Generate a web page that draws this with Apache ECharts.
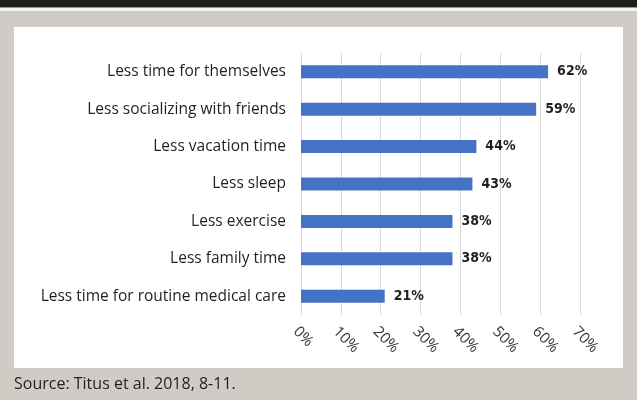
<!DOCTYPE html>
<html>
<head>
<meta charset="utf-8">
<script src="https://cdn.jsdelivr.net/npm/echarts@6/dist/echarts.min.js"></script>
<style>
  html, body { margin: 0; padding: 0; background: #cfcbc5; }
  #chart { width: 637px; height: 400px; }
</style>
</head>
<body>
<div id="chart"></div>
<script>
// 数据
const categories = [
  'Less time for themselves',
  'Less socializing with friends',
  'Less vacation time',
  'Less sleep',
  'Less exercise',
  'Less family time',
  'Less time for routine medical care'
]
const values = [62, 59, 44, 43, 38, 38, 21]
const sourceText = 'Source: Titus et al. 2018, 8-11.'

const chart = echarts.init(document.getElementById('chart'))
chart.setOption({
  backgroundColor: '#cfcbc5',
  animation: false,
  graphic: [
    // 顶部深色条
    { type: 'rect', left: 0, top: 0, shape: { width: 637, height: 7 }, style: { fill: '#1e1d1b' } },
    { type: 'rect', left: 0, top: 7, shape: { width: 637, height: 1 }, style: { fill: '#9a9894' } },
    { type: 'rect', left: 0, top: 8, shape: { width: 637, height: 3 }, style: { fill: '#f4f3f1' } },
    // 白色面板
    { type: 'rect', left: 14, top: 27, z: -1, shape: { width: 609, height: 341 }, style: { fill: '#ffffff' } },
    {
      type: 'text',
      x: 14,
      y: 384,
      style: {
        text: sourceText,
        fill: '#231f20',
        font: '16px "Open Sans"',
        verticalAlign: 'middle'
      }
    }
  ],
  grid: {
    left: 301,
    right: 57,
    top: 53,
    bottom: 85
  },
  xAxis: {
    type: 'value',
    min: 0,
    max: 70,
    interval: 10,
    axisLine: { show: false },
    axisTick: { show: false },
    splitLine: {
      show: true,
      lineStyle: { color: '#d9d9d9', width: 1 }
    },
    axisLabel: {
      rotate: -45,
      margin: 9,
      verticalAlign: 'top',
      color: '#333',
      fontFamily: 'Open Sans',
      fontSize: 15,
      formatter: '{value}%'
    }
  },
  yAxis: {
    type: 'category',
    inverse: true,
    data: categories,
    axisLine: { show: false },
    axisTick: { show: false },
    axisLabel: {
      margin: 15,
      color: '#231f20',
      fontFamily: 'Open Sans',
      fontSize: 15.5
    }
  },
  series: [
    {
      type: 'bar',
      data: values,
      barWidth: 13,
      itemStyle: { color: '#4472c4' },
      label: {
        show: true,
        position: 'right',
        distance: 9,
        color: '#231f20',
        fontFamily: 'DejaVu Sans Condensed',
        fontWeight: 'bold',
        fontSize: 14,
        formatter: '{c}%'
      }
    }
  ]
})
</script>
</body>
</html>
